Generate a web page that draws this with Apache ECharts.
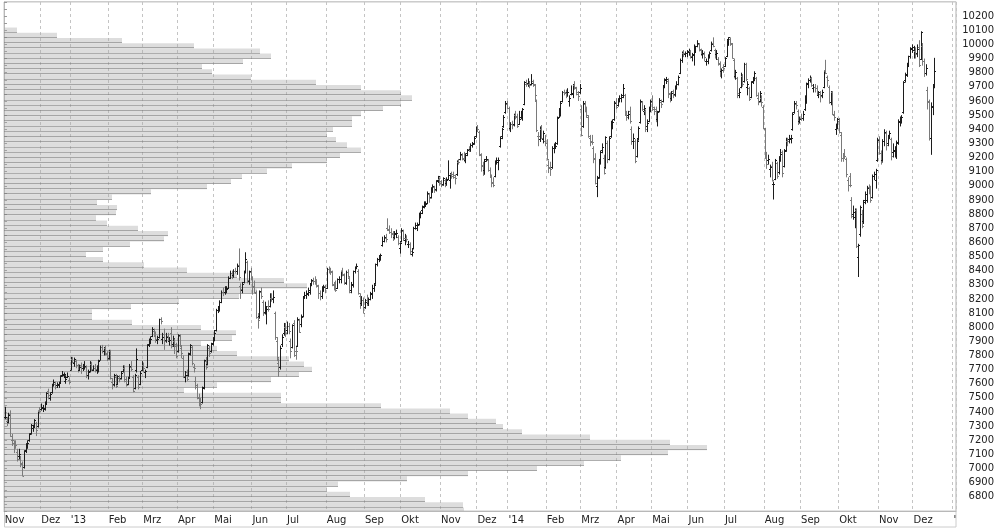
<!DOCTYPE html>
<html>
<head>
<meta charset="utf-8">
<script src="https://cdn.jsdelivr.net/npm/echarts@6/dist/echarts.min.js"></script>
<style>
  html, body { margin: 0; padding: 0; background: #fff; }
  #chart { width: 1003px; height: 528px; }
</style>
</head>
<body>
<div id="chart"></div>
<script>
// month blocks of the trading-day axis (Dez 2014 runs on to the year end, then two days of 2015)
const monthLabels = ['Nov', 'Dez', "'13", 'Feb', 'Mrz', 'Apr', 'Mai', 'Jun', 'Jul', 'Aug', 'Sep', 'Okt', 'Nov', 'Dez',
  "'14", 'Feb', 'Mrz', 'Apr', 'Mai', 'Jun', 'Jul', 'Aug', 'Sep', 'Okt', 'Nov', 'Dez', "'"];
const monthDays = [21, 17, 22, 20, 20, 21, 22, 20, 23, 22, 21, 23, 21, 18,
  22, 20, 21, 20, 21, 21, 23, 21, 22, 23, 20, 23, 2];

// daily bars [open, high, low, close]
const bars2012 = [
  // Nov
  [7362,7437,7350,7364],[7340,7365,7300,7326],[7330,7395,7320,7377],[7385,7412,7225,7232],[7205,7245,7160,7204],
  [7180,7200,7110,7163],[7175,7200,7140,7169],[7120,7140,7050,7069],[7090,7140,7060,7102],[7070,7090,7010,7043],
  [7030,7050,6948,6950],[7010,7130,7000,7123],[7130,7180,7110,7172],[7160,7200,7140,7184],[7200,7250,7190,7244],
  [7255,7315,7240,7309],[7290,7310,7260,7292],[7300,7350,7290,7343],[7320,7330,7230,7273],[7300,7410,7290,7399],
  [7410,7435,7390,7405],
  // Dez
  [7420,7460,7410,7435],[7430,7450,7400,7430],[7420,7475,7410,7456],[7460,7540,7450,7535],[7550,7565,7490,7517],
  [7500,7540,7480,7530],[7540,7600,7530,7589],[7600,7630,7580,7614],[7600,7615,7560,7580],[7590,7610,7570,7596],
  [7590,7615,7570,7607],[7610,7660,7600,7653],[7660,7690,7650,7672],[7665,7680,7640,7669],[7620,7660,7600,7636],
  [7650,7680,7640,7655],[7630,7645,7595,7612]
];

const bars2013 = [
  // Jan
  [7700,7790,7695,7779],[7775,7790,7745,7756],[7750,7785,7720,7776],[7760,7770,7710,7732],[7730,7740,7680,7695],
  [7700,7735,7690,7720],[7730,7750,7670,7708],[7710,7740,7690,7715],[7720,7760,7700,7729],[7720,7730,7640,7660],
  [7660,7700,7630,7685],[7690,7760,7680,7746],[7740,7755,7690,7702],[7700,7730,7690,7711],[7710,7740,7680,7706],
  [7700,7730,7670,7713],[7700,7770,7680,7759],[7770,7870,7765,7857],[7860,7875,7815,7833],[7830,7860,7800,7850],
  [7850,7870,7800,7820],[7810,7830,7760,7776],
  // Feb
  [7780,7840,7770,7833],[7830,7840,7630,7638],[7610,7640,7560,7589],[7600,7670,7580,7660],[7650,7670,7570,7583],
  [7600,7660,7590,7652],[7640,7660,7610,7632],[7640,7690,7630,7675],[7690,7730,7680,7715],[7710,7730,7610,7631],
  [7620,7650,7580,7593],[7600,7650,7590,7640],[7650,7740,7640,7728],[7720,7760,7690,7705],[7650,7660,7540,7550],
  [7570,7670,7560,7661],[7700,7850,7680,7773],[7650,7660,7560,7577],[7600,7690,7590,7674],[7700,7760,7690,7741],
  // Mrz
  [7730,7750,7680,7708],[7680,7700,7640,7691],[7720,7880,7710,7871],[7880,7920,7860,7904],[7900,7935,7880,7920],
  [7940,8000,7930,7986],[7970,7990,7930,7951],[7950,7970,7890,7920],[7910,7940,7880,7919],[7930,8060,7920,8058],
  [8060,8070,8020,8043],[7920,7960,7880,7932],[7950,7990,7840,7900],[7910,7960,7890,7931],[7940,7960,7900,7932],
  [7900,7930,7870,7912],[7960,8000,7850,7870],[7880,7940,7860,7925],[7900,7920,7810,7879],[7870,7890,7780,7795],
  // Apr
  [7830,7950,7820,7943],[7940,7950,7860,7874],[7850,7870,7780,7817],[7780,7800,7640,7658],[7650,7690,7610,7662],
  [7680,7700,7620,7637],[7660,7820,7650,7810],[7820,7880,7800,7871],[7860,7870,7730,7744],[7720,7740,7680,7712],
  [7620,7650,7560,7588],[7580,7600,7490,7503],[7500,7530,7440,7460],[7470,7500,7420,7459],[7470,7580,7460,7572],
  [7580,7770,7560,7765],[7760,7790,7700,7719],[7740,7880,7730,7873],[7850,7870,7790,7815],[7830,7890,7820,7878],
  [7890,7930,7870,7914],
  // Mai
  [7920,7980,7900,7960],[7980,8130,7970,8122],[8120,8150,8100,8131],[8140,8190,8110,8181],[8180,8260,8170,8249],
  [8250,8280,8220,8249],[8250,8290,8230,8278],[8270,8290,8240,8271],[8280,8360,8270,8348],[8350,8400,8340,8385],
  [8380,8400,8340,8368],[8370,8410,8350,8398],[8400,8420,8380,8397],[8400,8450,8370,8435],[8440,8557,8330,8352],
  [8290,8310,8200,8270],[8260,8320,8240,8306],[8320,8400,8310,8390],[8400,8530,8380,8480],[8460,8470,8310,8332],
  [8330,8400,8300,8395],[8390,8420,8340,8348],
  // Jun
  [8340,8360,8230,8286],[8290,8330,8240,8250],[8240,8260,8060,8069],[8070,8100,7990,8049],[8080,8260,8060,8254],
  [8250,8280,8200,8221],[8180,8190,8080,8102],[8110,8180,8090,8143],[8100,8150,8020,8129],[8150,8190,8110,8127],
  [8150,8240,8140,8215],[8210,8240,8180,8208],[8200,8260,8170,8213],[8100,8110,7910,7928],[7900,7930,7760,7789],
  [7750,7780,7650,7692],[7720,7870,7700,7854],[7880,7950,7860,7932],[7960,8030,7940,8011],[8000,8030,7930,7959],
  // Jul
  [7980,8040,7950,8007],[8010,8030,7950,7973],[7900,7920,7780,7829],[7860,8020,7850,8016],[8030,8050,7790,7806],
  [7830,7870,7770,7829],[7870,8070,7860,8057],[8050,8060,7960,7968],[8020,8090,8000,8070],[8080,8220,8070,8212],
  [8220,8250,8200,8227],[8230,8260,8200,8234],[8240,8280,8220,8252],[8260,8310,8230,8300],[8310,8340,8290,8331],
  [8330,8350,8300,8326],[8330,8360,8300,8317],[8320,8340,8280,8299],[8290,8300,8200,8239],[8240,8260,8190,8218],
  [8220,8290,8200,8275],[8280,8300,8250,8284],[8290,8300,8240,8276],
  // Aug
  [8280,8420,8270,8410],[8410,8430,8380,8403],[8400,8420,8370,8398],[8390,8400,8290,8304],[8300,8320,8260,8288],
  [8290,8330,8250,8265],[8280,8345,8270,8338],[8340,8360,8310,8343],[8340,8400,8310,8394],[8400,8420,8360,8377],
  [8370,8380,8300,8322],[8310,8400,8300,8392],[8390,8410,8350,8364],[8350,8360,8240,8249],[8260,8320,8240,8304],
  [8300,8400,8280,8398],[8400,8430,8380,8416],[8420,8450,8410,8435],[8400,8410,8230,8242],[8220,8240,8130,8157],
  [8170,8220,8150,8195],[8190,8210,8100,8103],
  // Sep
  [8140,8200,8130,8180],[8190,8230,8150,8180],[8170,8210,8150,8196],[8200,8250,8190,8234],[8240,8300,8200,8276],
  [8280,8310,8250,8296],[8310,8450,8300,8444],[8450,8490,8430,8480],[8480,8510,8460,8495],[8490,8520,8470,8509],
  [8580,8640,8570,8613],[8610,8650,8600,8638],[8630,8660,8600,8626],[8700,8770,8680,8695],[8690,8720,8660,8675],
  [8670,8700,8630,8665],[8660,8680,8610,8634],[8640,8680,8620,8665],[8660,8690,8630,8667],[8640,8650,8580,8596],
  [8560,8600,8520,8594],
  // Okt
  [8610,8700,8600,8690],[8680,8690,8610,8629],[8620,8660,8580,8630],[8630,8650,8600,8622],[8590,8610,8560,8591],
  [8590,8600,8510,8536],[8520,8560,8500,8534],[8560,8710,8550,8700],[8700,8740,8690,8725],[8700,8740,8680,8723],
  [8730,8810,8720,8804],[8790,8820,8770,8806],[8830,8860,8800,8850],[8860,8890,8840,8869],[8870,8890,8850,8874],
  [8880,8960,8870,8947],[8940,8950,8880,8914],[8920,8990,8910,8979],[8980,9010,8950,9001],[8990,9000,8950,8970],
  [8980,9040,8960,9033],[9040,9070,9020,9068],[9050,9060,9000,9033],
  // Nov
  [9020,9040,8990,9007],[9010,9060,9000,9055],[9040,9050,8990,9014],[9020,9060,9000,9040],[9050,9180,9040,9078],
  [9040,9090,8980,9079],[9080,9100,9050,9068],[9080,9100,9050,9076],[9060,9080,9010,9055],[9080,9180,9070,9168],
  [9170,9190,9150,9168],[9190,9240,9180,9226],[9220,9230,9180,9193],[9200,9240,9170,9191],[9180,9230,9160,9221],
  [9230,9260,9210,9253],[9260,9280,9240,9257],[9260,9300,9240,9291],[9290,9310,9270,9299],[9300,9350,9290,9340],
  [9350,9420,9340,9406],
  // Dez
  [9420,9430,9380,9405],[9380,9390,9210,9225],[9220,9230,9100,9140],[9150,9170,9070,9085],[9110,9190,9080,9172],
  [9190,9210,9170,9190],[9180,9190,9100,9114],[9110,9130,9060,9077],[9060,9080,8990,9018],[9030,9060,8990,9006],
  [9070,9180,9060,9164],[9170,9200,9150,9182],[9170,9200,9110,9181],[9280,9350,9270,9336],[9350,9410,9330,9400],
  [9420,9500,9410,9489],[9520,9600,9510,9589],[9580,9600,9540,9552]
];

const bars2014 = [
  // Jan
  [9550,9560,9390,9400],[9410,9450,9380,9435],[9440,9460,9400,9428],[9440,9510,9420,9506],[9500,9530,9470,9497],
  [9490,9510,9410,9421],[9440,9530,9430,9473],[9490,9530,9470,9510],[9480,9550,9460,9540],[9580,9740,9570,9733],
  [9720,9750,9700,9718],[9730,9760,9700,9742],[9720,9740,9690,9715],[9720,9790,9710,9730],[9740,9750,9700,9721],
  [9710,9720,9600,9640],[9600,9610,9380,9392],[9350,9380,9280,9349],[9330,9420,9310,9406],[9400,9430,9330,9336],
  [9330,9390,9300,9374],[9320,9360,9280,9306],
  // Feb
  [9300,9330,9180,9193],[9150,9180,9090,9127],[9130,9170,9070,9117],[9130,9280,9120,9265],[9270,9300,9230,9290],
  [9280,9310,9260,9285],[9300,9490,9290,9478],[9490,9550,9480,9540],[9520,9600,9490,9588],[9600,9670,9590,9662],
  [9660,9680,9640,9656],[9660,9680,9620,9659],[9660,9690,9630,9660],[9600,9640,9560,9618],[9650,9710,9640,9656],
  [9650,9720,9620,9708],[9710,9740,9680,9699],[9690,9700,9640,9661],[9650,9670,9600,9638],[9660,9720,9650,9692],
  // Mrz
  [9540,9570,9350,9358],[9420,9600,9410,9589],[9580,9600,9520,9542],[9540,9560,9480,9498],[9490,9500,9340,9351],
  [9340,9360,9280,9311],[9320,9360,9290,9307],[9270,9280,9160,9189],[9200,9230,9010,9017],[9000,9070,8920,9056],
  [9060,9190,9050,9180],[9180,9250,9150,9242],[9250,9300,9230,9277],[9200,9220,9080,9093],[9130,9350,9120,9342],
  [9300,9320,9160,9189],[9190,9350,9180,9338],[9350,9460,9340,9448],[9430,9470,9400,9451],[9470,9600,9460,9588],
  [9590,9620,9540,9556],
  // Apr
  [9570,9620,9560,9603],[9610,9640,9590,9623],[9620,9650,9590,9629],[9640,9720,9620,9695],[9640,9650,9500,9510],
  [9500,9530,9460,9490],[9500,9530,9470,9506],[9530,9560,9440,9455],[9400,9420,9290,9315],[9320,9370,9260,9339],
  [9320,9330,9160,9173],[9210,9330,9200,9317],[9340,9420,9320,9409],[9450,9610,9440,9600],[9590,9600,9530,9545],
  [9530,9570,9500,9548],[9530,9540,9380,9401],[9420,9470,9380,9446],[9460,9560,9450,9543],[9540,9610,9520,9603],
  // Mai
  [9590,9640,9530,9556],[9540,9560,9500,9529],[9540,9560,9450,9467],[9470,9530,9420,9521],[9530,9620,9520,9607],
  [9590,9610,9550,9581],[9600,9710,9590,9702],[9710,9760,9690,9754],[9750,9770,9720,9755],[9740,9760,9620,9656],
  [9650,9660,9590,9630],[9620,9670,9600,9659],[9670,9680,9620,9639],[9650,9710,9630,9697],[9700,9740,9680,9720],
  [9720,9780,9710,9768],[9800,9900,9790,9892],[9890,9950,9870,9940],[9940,9960,9910,9939],[9930,9950,9910,9939],
  [9940,9960,9910,9943],
  // Jun
  [9950,9970,9920,9950],[9950,9960,9900,9920],[9910,9940,9880,9926],[9930,10000,9850,9948],[9960,9990,9940,9987],
  [9990,10030,9980,10008],[10000,10010,9950,9967],[9960,9970,9920,9931],[9930,9960,9900,9939],[9930,9950,9880,9912],
  [9880,9900,9850,9883],[9880,9930,9860,9920],[9920,9950,9900,9938],[9960,10020,9950,10005],[10010,10050,9980,9987],
  [9960,9970,9900,9920],[9930,9960,9890,9938],[9900,9910,9850,9867],[9860,9880,9770,9805],[9810,9830,9760,9816],
  [9840,9860,9800,9833],
  // Jul
  [9850,9910,9840,9902],[9920,10030,9910,10029],[10040,10051,9990,10050],[10040,10050,9990,10009],[10000,10010,9900,9906],
  [9890,9900,9760,9772],[9780,9820,9750,9808],[9760,9770,9620,9659],[9640,9690,9620,9666],[9700,9800,9690,9783],
  [9780,9790,9700,9719],[9740,9870,9730,9859],[9860,9870,9740,9753],[9700,9740,9640,9720],[9690,9700,9600,9613],
  [9630,9740,9620,9734],[9740,9770,9720,9753],[9770,9810,9740,9797],[9760,9770,9630,9644],[9620,9660,9570,9593],
  [9600,9670,9590,9653],[9620,9640,9560,9593],[9560,9570,9400,9407],
  // Aug
  [9400,9410,9190,9210],[9210,9240,9120,9154],[9180,9220,9150,9189],[9120,9150,9060,9130],[9140,9170,9030,9039],
  [9010,9030,8903,9010],[9050,9190,9040,9180],[9160,9170,9050,9069],[9100,9210,9080,9199],[9200,9260,9170,9225],
  [9240,9250,9060,9092],[9140,9260,9130,9246],[9250,9340,9240,9334],[9320,9340,9280,9314],[9330,9360,9300,9340],
  [9330,9360,9300,9339],[9400,9520,9390,9511],[9520,9600,9510,9588],[9580,9600,9540,9569],[9530,9540,9430,9462],
  [9460,9490,9440,9470],
  // Sep
  [9480,9510,9460,9479],[9480,9530,9460,9507],[9540,9640,9530,9626],[9620,9730,9580,9724],[9720,9760,9690,9747],
  [9750,9780,9730,9758],[9760,9770,9700,9710],[9690,9720,9660,9700],[9700,9720,9660,9691],[9690,9710,9640,9651],
  [9640,9670,9620,9660],[9650,9670,9590,9632],[9640,9680,9620,9661],[9700,9810,9690,9798],[9820,9891,9790,9799],
  [9770,9780,9700,9749],[9700,9710,9580,9595],[9590,9670,9570,9662],[9660,9670,9500,9511],[9500,9530,9460,9490],
  [9400,9440,9360,9422],[9430,9480,9400,9474],
  // Okt
  [9460,9480,9370,9382],[9360,9380,9170,9195],[9200,9230,9170,9195],[9230,9260,9190,9209],[9190,9200,9060,9086],
  [9040,9060,8960,9005],[9070,9090,8990,9005],[8900,8920,8770,8788],[8800,8860,8760,8812],[8780,8840,8700,8826],
  [8830,8840,8560,8572],[8500,8590,8355,8582],[8660,8860,8640,8850],[8800,8830,8700,8717],[8750,8900,8730,8887],
  [8900,8960,8870,8940],[8900,9000,8880,8987],[8990,9010,8940,8988],[8980,9000,8880,8902],[8920,9080,8910,9068],
  [9070,9100,9040,9082],[9040,9120,8980,9114],[9180,9340,9170,9326],
  // Nov
  [9330,9350,9220,9235],[9230,9250,9150,9166],[9180,9330,9170,9316],[9320,9400,9280,9378],[9370,9390,9250,9291],
  [9300,9360,9280,9351],[9350,9390,9330,9370],[9330,9340,9180,9211],[9240,9300,9200,9248],[9250,9280,9200,9252],
  [9210,9320,9190,9307],[9300,9470,9290,9456],[9450,9490,9420,9472],[9460,9500,9440,9484],[9520,9740,9510,9732],
  [9750,9800,9730,9786],[9790,9870,9770,9862],[9860,9920,9840,9915],[9920,9980,9900,9974],[9970,10000,9940,9980],
  // Dez
  [9960,9990,9900,9963],[9950,9980,9900,9934],[9940,10000,9910,9971],[9980,10030,9840,9851],[9900,10093,9890,10087],
  [9990,10010,9850,9880],[9880,9900,9770,9800],[9800,9860,9780,9830],[9680,9700,9540,9594],[9600,9610,9320,9335],
  [9340,9590,9219,9563],[9560,9720,9500,9700],[9700,9905,9690,9811]
];

// volume profile: price bins from the top (centre 10101, 36.9 points each) downwards
const profileTop = 10101;
const profileStep = 36.9;
const profileVolume = [
  13, 53, 118, 190, 256, 267, 239, 198, 208, 247, 312, 357, 397, 408, 397, 379, 357, 348, 348, 329,
  323, 332, 343, 357, 336, 323, 288, 263, 238, 227, 203, 147, 108, 93, 113, 112, 92, 103, 134, 164,
  160, 126, 99, 82, 99, 140, 183, 233, 280, 303, 253, 235, 175, 127, 88, 88, 128, 197, 232, 228,
  197, 213, 233, 285, 300, 308, 295, 267, 213, 180, 277, 277, 377, 446, 464, 492, 499, 518, 586, 666,
  703, 664, 617, 580, 533, 464, 403, 334, 323, 346, 421, 459, 460
];

const yTicks = { min: 6700, max: 10300, step: 100 };

// build the category axis
const categories = [];
const labelAt = {};
monthLabels.forEach((m, k) => {
  for (let d = 0; d < monthDays[k]; d++) {
    const key = k + '_' + d;
    if (d === 0) labelAt[key] = m;
    categories.push(key);
  }
});

const ohlcData = bars2012.concat(bars2013, bars2014).map((b, i) => [i, b[0], b[1], b[2], b[3]]);
const profileData = profileVolume.map((v, i) => {
  const c = profileTop - i * profileStep;
  return [v, c - profileStep / 2, c + profileStep / 2];
});

const chart = echarts.init(document.getElementById('chart'));

const renderOhlc = (params, api) => {
  const i = api.value(0);
  const o = api.coord([i, api.value(1)]);
  const h = api.coord([i, api.value(2)]);
  const l = api.coord([i, api.value(3)]);
  const c = api.coord([i, api.value(4)]);
  const up = api.value(4) >= api.value(1);
  const color = up ? '#1c1c1c' : '#7a7a7a';
  const x = Math.round(h[0]) + 0.5;
  const yo = Math.round(o[1]) + 0.5;
  const yc = Math.round(c[1]) + 0.5;
  const st = { stroke: color, lineWidth: 1 };
  return {
    type: 'group',
    children: [
      { type: 'line', shape: { x1: x, y1: h[1], x2: x, y2: l[1] }, style: st },
      { type: 'line', shape: { x1: x - 1.5, y1: yo, x2: x, y2: yo }, style: st },
      { type: 'line', shape: { x1: x, y1: yc, x2: x + 1.5, y2: yc }, style: st }
    ]
  };
};

const renderProfile = (params, api) => {
  const p0 = api.coord([0, api.value(2)]);
  const p1 = api.coord([api.value(0), api.value(1)]);
  const yb = Math.round(p1[1]) - 0.5;
  return {
    type: 'group',
    children: [
      { type: 'rect', shape: { x: p0[0], y: p0[1], width: p1[0] - p0[0], height: p1[1] - p0[1] },
        style: { fill: 'rgba(170,170,170,0.40)' } },
      { type: 'line', shape: { x1: p0[0], y1: yb, x2: p1[0], y2: yb },
        style: { stroke: 'rgba(110,110,110,0.5)', lineWidth: 1 } }
    ]
  };
};

const option = {
  animation: false,
  backgroundColor: '#fff',
  grid: { left: 4, right: 47, top: 2, bottom: 17, show: true, borderColor: '#c8c8c8', borderWidth: 1 },
  xAxis: [
    {
      type: 'category',
      data: categories,
      boundaryGap: true,
      axisLine: { show: true, lineStyle: { color: '#b8b8b8' } },
      axisTick: { show: false },
      axisLabel: {
        interval: (index, value) => labelAt[value] !== undefined,
        formatter: (value) => labelAt[value] || '',
        align: 'left',
        margin: 4,
        color: '#222',
        fontFamily: 'DejaVu Sans',
        fontSize: 10
      },
      splitLine: {
        show: true,
        interval: (index, value) => labelAt[value] !== undefined,
        lineStyle: { color: '#c4c4c4', type: [3, 3], width: 1 }
      }
    },
    { type: 'value', min: 0, max: 952, show: false }
  ],
  yAxis: {
    type: 'value',
    position: 'right',
    min: yTicks.min,
    max: yTicks.max,
    interval: yTicks.step,
    axisLine: { show: true, lineStyle: { color: '#b8b8b8' } },
    axisTick: { show: true, length: 3, lineStyle: { color: '#999' } },
    minorTick: { show: true, splitNumber: 2, length: 3, lineStyle: { color: '#999' } },
    splitLine: { show: false },
    axisLabel: {
      showMinLabel: false,
      showMaxLabel: false,
      formatter: (v) => String(v),
      align: 'right',
      margin: 38,
      color: '#222',
      fontFamily: 'DejaVu Sans',
      fontSize: 10
    }
  },
  graphic: [
    { type: 'rect', shape: { x: 4.5, y: 1.5, width: 951.5, height: 525.5 },
      style: { fill: 'none', stroke: '#cccccc', lineWidth: 1 }, silent: true }
  ],
  series: [
    {
      type: 'custom',
      name: 'Profil',
      xAxisIndex: 1,
      yAxisIndex: 0,
      renderItem: renderProfile,
      encode: { x: 0, y: [1, 2] },
      data: profileData,
      clip: true,
      z: 1
    },
    {
      type: 'custom',
      name: 'DAX',
      xAxisIndex: 0,
      yAxisIndex: 0,
      renderItem: renderOhlc,
      encode: { x: 0, y: [1, 2, 3, 4] },
      data: ohlcData,
      z: 3
    }
  ]
};

chart.setOption(option);
</script>
</body>
</html>
